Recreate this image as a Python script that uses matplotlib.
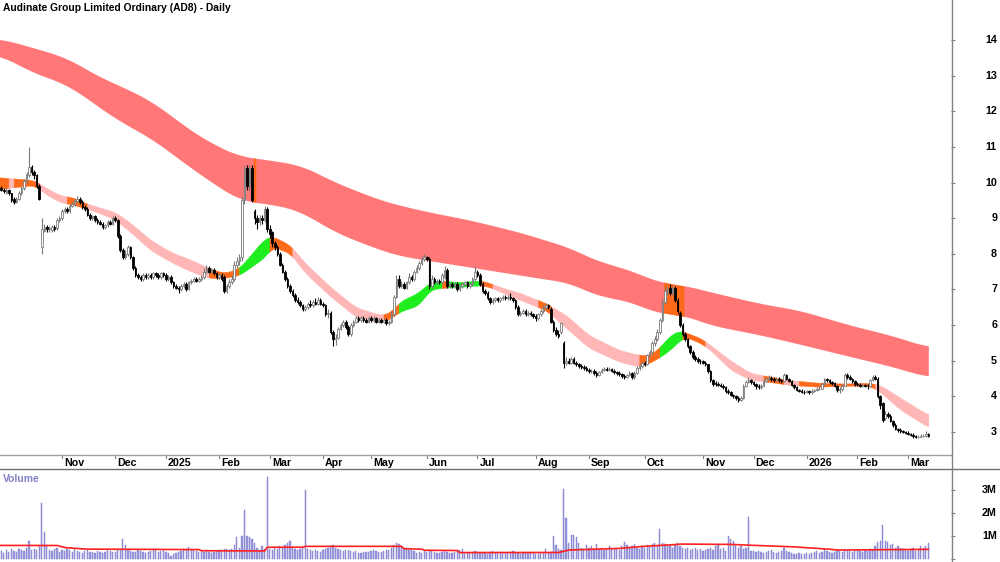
import numpy as np
import pandas as pd
import matplotlib
matplotlib.use('Agg')
import matplotlib.pyplot as plt
from matplotlib.lines import Line2D
from matplotlib.transforms import blended_transform_factory

plt.rcParams['font.family'] = ['Liberation Sans', 'DejaVu Sans']

# ---------------- calendar ----------------
holidays = ['2024-12-25', '2024-12-26', '2025-01-01', '2025-01-27', '2025-04-18',
            '2025-04-21', '2025-04-25', '2025-06-09', '2025-12-25', '2025-12-26',
            '2026-01-01', '2026-01-26']
dates = pd.bdate_range('2024-09-27', '2026-03-12')
dates = dates[~dates.isin(pd.to_datetime(holidays))]

# ---------------- OHLC (A$) ----------------
opens = [
 9.7, 9.85, 9.8, 9.72, 9.8, 9.7, 9.55, 9.45, 9.55, 9.7,
 9.85, 10.05, 10.2, 10.45, 10.3, 10.2, 9.9, 8.2, 8.65, 8.75,
 8.7, 8.68, 8.76, 8.72, 8.95, 9.0, 9.2, 9.26, 9.2, 9.35,
 9.4, 9.48, 9.55, 9.45, 9.32, 9.25, 9.1, 9.0, 9.05, 8.95,
 8.9, 8.85, 8.75, 8.8, 8.9, 8.85, 9.0, 8.95, 8.5, 8.1,
 7.9, 8.0, 8.2, 7.9, 7.6, 7.4, 7.35, 7.3, 7.4, 7.35,
 7.4, 7.35, 7.45, 7.4, 7.35, 7.45, 7.4, 7.3, 7.35, 7.2,
 7.1, 7.05, 7.0, 7.1, 7.15, 7.0, 7.2, 7.25, 7.3, 7.25,
 7.3, 7.35, 7.5, 7.6, 7.5, 7.55, 7.45, 7.35, 7.4, 7.35,
 6.95, 7.1, 7.2, 7.3, 7.7, 7.8, 7.9, 9.5, 10.4, 9.9,
 10.4, 9.2, 9.0, 8.9, 9.0, 8.95, 9.25, 8.7, 8.6, 8.3,
 8.2, 8.0, 7.7, 7.5, 7.3, 7.1, 6.95, 6.85, 6.7, 6.65,
 6.55, 6.45, 6.5, 6.6, 6.55, 6.65, 6.6, 6.7, 6.6, 6.55,
 6.3, 6.35, 5.8, 5.6, 5.65, 5.9, 6.0, 6.1, 5.95, 5.75,
 6.0, 6.1, 6.2, 6.15, 6.2, 6.15, 6.1, 6.2, 6.15, 6.2,
 6.1, 6.15, 6.1, 6.15, 6.05, 6.1, 6.3, 6.8, 7.3, 7.1,
 7.15, 7.05, 7.2, 7.35, 7.3, 7.5, 7.6, 7.75, 7.85, 7.9,
 7.85, 7.1, 7.3, 7.2, 7.25, 7.2, 7.35, 7.55, 7.1, 7.15,
 7.1, 7.15, 7.0, 7.1, 7.15, 7.2, 7.1, 7.15, 7.3, 7.5,
 7.4, 7.15, 6.95, 6.9, 6.75, 6.65, 6.7, 6.75, 6.7, 6.75,
 6.8, 6.75, 6.8, 6.75, 6.7, 6.5, 6.3, 6.35, 6.4, 6.3,
 6.35, 6.3, 6.25, 6.2, 6.3, 6.4, 6.5, 6.55, 6.45, 6.1,
 5.85, 5.75, 5.8, 5.5, 4.95, 5.0, 4.95, 5.05, 4.95, 4.9,
 4.85, 4.82, 4.8, 4.75, 4.7, 4.72, 4.65, 4.6, 4.68, 4.75,
 4.78, 4.75, 4.78, 4.72, 4.68, 4.65, 4.62, 4.58, 4.55, 4.6,
 4.65, 4.55, 4.65, 4.8, 4.85, 4.95, 4.9, 5.15, 5.25, 5.5,
 5.6, 5.8, 6.15, 6.65, 6.95, 7.05, 6.9, 7.05, 6.7, 6.35,
 6.0, 5.75, 5.6, 5.4, 5.25, 5.1, 5.05, 5.0, 4.98, 4.95,
 4.9, 4.7, 4.45, 4.38, 4.35, 4.32, 4.3, 4.25, 4.15, 4.12,
 4.05, 4.0, 3.95, 3.9, 3.95, 4.3, 4.4, 4.45, 4.4, 4.35,
 4.3, 4.25, 4.3, 4.42, 4.5, 4.52, 4.48, 4.45, 4.5, 4.45,
 4.42, 4.6, 4.48, 4.42, 4.32, 4.25, 4.18, 4.15, 4.13, 4.12,
 4.14, 4.12, 4.15, 4.18, 4.2, 4.22, 4.35, 4.48, 4.45, 4.4,
 4.38, 4.3, 4.18, 4.2, 4.3, 4.6, 4.55, 4.5, 4.42, 4.35,
 4.33, 4.3, 4.32, 4.3, 4.28, 4.45, 4.55, 4.5, 4.0, 3.8,
 3.4, 3.5, 3.45, 3.3, 3.2, 3.08, 3.05, 3.02, 3.0, 2.98,
 2.95, 2.92, 2.88, 2.85, 2.87, 2.88, 2.9, 2.95]
highs = [
 9.95, 9.9, 9.85, 9.85, 9.82, 9.72, 9.6, 9.6, 9.75, 9.9,
 10.1, 10.3, 11.0, 10.5, 10.35, 10.25, 9.95, 9.0, 8.85, 8.8,
 8.78, 8.8, 8.8, 9.0, 9.05, 9.25, 9.3, 9.3, 9.4, 9.45,
 9.55, 9.62, 9.6, 9.5, 9.38, 9.3, 9.15, 9.1, 9.08, 9.0,
 8.95, 8.9, 8.85, 8.95, 8.95, 9.05, 9.05, 8.98, 8.55, 8.15,
 8.1, 8.25, 8.22, 7.95, 7.65, 7.45, 7.4, 7.45, 7.45, 7.45,
 7.45, 7.5, 7.5, 7.45, 7.5, 7.5, 7.45, 7.4, 7.4, 7.25,
 7.15, 7.1, 7.15, 7.2, 7.2, 7.25, 7.3, 7.35, 7.35, 7.35,
 7.4, 7.6, 7.7, 7.65, 7.6, 7.6, 7.5, 7.45, 7.45, 7.4,
 7.15, 7.3, 7.4, 7.8, 7.9, 8.0, 9.6, 10.5, 10.5, 10.5,
 10.5, 9.25, 9.1, 9.1, 9.1, 9.35, 9.3, 8.8, 8.65, 8.35,
 8.25, 8.05, 7.75, 7.55, 7.35, 7.15, 7.0, 6.9, 6.8, 6.7,
 6.6, 6.55, 6.65, 6.7, 6.7, 6.75, 6.8, 6.75, 6.65, 6.6,
 6.45, 6.4, 5.85, 5.75, 5.95, 6.05, 6.15, 6.15, 6.0, 6.05,
 6.15, 6.25, 6.25, 6.25, 6.25, 6.2, 6.25, 6.25, 6.25, 6.22,
 6.2, 6.2, 6.2, 6.2, 6.15, 6.4, 6.85, 7.4, 7.4, 7.25,
 7.2, 7.25, 7.45, 7.4, 7.55, 7.7, 7.8, 7.95, 8.0, 7.95,
 7.9, 7.4, 7.35, 7.3, 7.3, 7.45, 7.65, 7.6, 7.2, 7.2,
 7.2, 7.2, 7.15, 7.2, 7.25, 7.25, 7.2, 7.35, 7.65, 7.55,
 7.45, 7.2, 7.0, 6.95, 6.8, 6.75, 6.8, 6.8, 6.8, 6.85,
 6.85, 6.85, 6.9, 6.8, 6.72, 6.55, 6.4, 6.45, 6.45, 6.4,
 6.4, 6.35, 6.3, 6.35, 6.45, 6.55, 6.62, 6.6, 6.5, 6.15,
 5.95, 5.85, 6.1, 5.55, 5.1, 5.08, 5.1, 5.1, 5.0, 4.95,
 4.9, 4.88, 4.85, 4.8, 4.78, 4.76, 4.7, 4.72, 4.8, 4.82,
 4.82, 4.82, 4.8, 4.76, 4.72, 4.7, 4.66, 4.62, 4.64, 4.7,
 4.68, 4.7, 4.85, 4.9, 5.0, 5.0, 5.2, 5.3, 5.55, 5.7,
 5.9, 6.2, 6.75, 7.05, 7.1, 7.15, 7.12, 7.1, 6.75, 6.4,
 6.05, 5.8, 5.65, 5.45, 5.3, 5.15, 5.1, 5.05, 5.02, 5.0,
 4.92, 4.75, 4.5, 4.42, 4.4, 4.38, 4.35, 4.3, 4.2, 4.15,
 4.08, 4.05, 4.0, 4.0, 4.35, 4.45, 4.55, 4.5, 4.42, 4.38,
 4.35, 4.35, 4.45, 4.55, 4.6, 4.58, 4.55, 4.55, 4.55, 4.5,
 4.65, 4.62, 4.52, 4.45, 4.35, 4.28, 4.22, 4.2, 4.18, 4.18,
 4.18, 4.2, 4.22, 4.25, 4.28, 4.4, 4.52, 4.52, 4.48, 4.42,
 4.4, 4.32, 4.25, 4.35, 4.65, 4.65, 4.6, 4.52, 4.45, 4.4,
 4.38, 4.38, 4.36, 4.35, 4.5, 4.6, 4.6, 4.55, 4.05, 3.85,
 3.58, 3.55, 3.5, 3.35, 3.25, 3.12, 3.1, 3.06, 3.04, 3.02,
 2.98, 2.96, 2.92, 2.92, 2.95, 2.95, 3.02, 2.97]
lows = [
 9.65, 9.75, 9.7, 9.68, 9.65, 9.45, 9.4, 9.42, 9.5, 9.65,
 9.8, 10.0, 10.15, 10.2, 10.1, 9.85, 9.5, 8.0, 8.6, 8.6,
 8.6, 8.62, 8.65, 8.68, 8.9, 8.95, 9.15, 9.15, 9.15, 9.3,
 9.35, 9.45, 9.4, 9.25, 9.2, 9.05, 8.95, 8.95, 8.9, 8.85,
 8.8, 8.7, 8.7, 8.75, 8.8, 8.8, 8.9, 8.45, 8.05, 7.85,
 7.85, 7.95, 7.85, 7.55, 7.35, 7.3, 7.25, 7.25, 7.3, 7.3,
 7.3, 7.3, 7.35, 7.3, 7.3, 7.35, 7.25, 7.25, 7.15, 7.05,
 7.0, 6.9, 6.95, 7.05, 6.95, 6.98, 7.15, 7.2, 7.2, 7.2,
 7.25, 7.3, 7.45, 7.45, 7.45, 7.4, 7.3, 7.3, 7.25, 6.9,
 6.9, 7.05, 7.15, 7.25, 7.6, 7.7, 7.8, 9.4, 9.8, 9.8,
 9.45, 8.85, 8.7, 8.8, 8.85, 8.9, 8.6, 8.45, 8.2, 8.1,
 7.95, 7.65, 7.45, 7.25, 7.05, 6.9, 6.8, 6.65, 6.6, 6.5,
 6.4, 6.4, 6.45, 6.5, 6.5, 6.55, 6.55, 6.55, 6.5, 6.25,
 6.2, 5.75, 5.4, 5.45, 5.6, 5.85, 5.95, 5.9, 5.7, 5.7,
 5.95, 6.05, 6.1, 6.1, 6.1, 6.05, 6.05, 6.1, 6.1, 6.05,
 6.05, 6.05, 6.05, 6.0, 6.0, 6.05, 6.25, 6.75, 7.05, 7.05,
 7.0, 7.0, 7.15, 7.25, 7.25, 7.45, 7.55, 7.7, 7.8, 7.8,
 7.0, 7.05, 7.15, 7.15, 7.15, 7.15, 7.3, 7.05, 7.05, 7.05,
 7.05, 6.95, 6.95, 7.05, 7.1, 7.05, 7.05, 7.1, 7.25, 7.35,
 7.1, 6.9, 6.85, 6.7, 6.6, 6.6, 6.65, 6.65, 6.65, 6.7,
 6.7, 6.7, 6.7, 6.65, 6.45, 6.25, 6.25, 6.3, 6.25, 6.25,
 6.25, 6.2, 6.12, 6.15, 6.25, 6.35, 6.45, 6.45, 6.05, 5.8,
 5.7, 5.65, 5.75, 4.8, 4.88, 4.9, 4.9, 4.9, 4.85, 4.8,
 4.78, 4.75, 4.7, 4.65, 4.65, 4.6, 4.55, 4.56, 4.65, 4.72,
 4.7, 4.7, 4.68, 4.64, 4.6, 4.58, 4.52, 4.5, 4.52, 4.56,
 4.5, 4.5, 4.62, 4.75, 4.8, 4.85, 4.88, 5.1, 5.2, 5.4,
 5.55, 5.75, 6.1, 6.6, 6.85, 6.85, 6.85, 6.65, 6.35, 5.95,
 5.7, 5.55, 5.35, 5.2, 5.05, 4.98, 4.95, 4.92, 4.9, 4.85,
 4.65, 4.4, 4.3, 4.3, 4.28, 4.25, 4.2, 4.1, 4.08, 4.0,
 3.95, 3.9, 3.85, 3.88, 3.92, 4.25, 4.38, 4.35, 4.3, 4.22,
 4.2, 4.2, 4.28, 4.4, 4.45, 4.42, 4.4, 4.42, 4.4, 4.38,
 4.4, 4.45, 4.4, 4.3, 4.2, 4.15, 4.12, 4.1, 4.08, 4.1,
 4.08, 4.08, 4.12, 4.15, 4.18, 4.2, 4.32, 4.4, 4.35, 4.32,
 4.25, 4.12, 4.1, 4.15, 4.28, 4.5, 4.45, 4.38, 4.3, 4.28,
 4.25, 4.25, 4.25, 4.22, 4.25, 4.42, 4.45, 3.95, 3.65, 3.28,
 3.35, 3.4, 3.28, 3.15, 3.05, 3.0, 2.98, 2.96, 2.94, 2.92,
 2.88, 2.84, 2.82, 2.83, 2.85, 2.86, 2.87, 2.85]
closes = [
 9.85, 9.8, 9.75, 9.8, 9.7, 9.5, 9.45, 9.55, 9.7, 9.85,
 10.05, 10.25, 10.45, 10.3, 10.2, 9.9, 9.55, 8.7, 8.75, 8.7,
 8.7, 8.75, 8.7, 8.95, 9.0, 9.2, 9.25, 9.2, 9.35, 9.4,
 9.5, 9.55, 9.45, 9.3, 9.25, 9.1, 9.0, 9.05, 8.95, 8.9,
 8.85, 8.75, 8.8, 8.9, 8.85, 9.0, 8.95, 8.5, 8.1, 7.9,
 8.0, 8.2, 7.9, 7.6, 7.4, 7.35, 7.3, 7.4, 7.35, 7.4,
 7.35, 7.45, 7.4, 7.35, 7.45, 7.4, 7.3, 7.35, 7.2, 7.1,
 7.05, 7.0, 7.1, 7.15, 7.0, 7.2, 7.25, 7.3, 7.25, 7.3,
 7.35, 7.5, 7.6, 7.5, 7.55, 7.45, 7.35, 7.4, 7.3, 6.95,
 7.1, 7.2, 7.3, 7.7, 7.8, 7.9, 9.5, 10.4, 9.9, 10.4,
 9.5, 9.0, 8.9, 9.0, 8.95, 9.25, 8.7, 8.55, 8.3, 8.2,
 8.0, 7.7, 7.5, 7.3, 7.1, 6.95, 6.85, 6.7, 6.65, 6.55,
 6.45, 6.5, 6.6, 6.55, 6.65, 6.6, 6.7, 6.6, 6.55, 6.3,
 6.35, 5.8, 5.6, 5.65, 5.9, 6.0, 6.1, 5.95, 5.75, 6.0,
 6.1, 6.2, 6.15, 6.2, 6.15, 6.1, 6.2, 6.15, 6.2, 6.1,
 6.15, 6.1, 6.15, 6.05, 6.1, 6.3, 6.8, 7.3, 7.1, 7.15,
 7.05, 7.2, 7.35, 7.3, 7.5, 7.6, 7.75, 7.85, 7.9, 7.85,
 7.1, 7.3, 7.2, 7.25, 7.2, 7.4, 7.55, 7.1, 7.15, 7.1,
 7.15, 7.0, 7.1, 7.15, 7.2, 7.1, 7.15, 7.3, 7.5, 7.4,
 7.15, 6.95, 6.9, 6.75, 6.65, 6.7, 6.75, 6.7, 6.75, 6.8,
 6.75, 6.8, 6.75, 6.7, 6.5, 6.3, 6.35, 6.4, 6.3, 6.35,
 6.3, 6.25, 6.2, 6.3, 6.4, 6.5, 6.55, 6.5, 6.1, 5.85,
 5.75, 5.7, 6.05, 4.95, 5.0, 4.95, 5.05, 4.95, 4.9, 4.85,
 4.82, 4.8, 4.75, 4.7, 4.72, 4.65, 4.6, 4.68, 4.75, 4.78,
 4.75, 4.78, 4.72, 4.68, 4.65, 4.62, 4.58, 4.55, 4.6, 4.65,
 4.55, 4.65, 4.8, 4.85, 4.95, 4.9, 5.15, 5.25, 5.5, 5.6,
 5.8, 6.15, 6.65, 6.95, 7.0, 6.9, 7.05, 6.7, 6.4, 6.0,
 5.75, 5.6, 5.4, 5.25, 5.1, 5.05, 5.0, 4.98, 4.95, 4.9,
 4.7, 4.45, 4.35, 4.35, 4.32, 4.3, 4.25, 4.15, 4.12, 4.05,
 4.0, 3.95, 3.9, 3.95, 4.3, 4.4, 4.45, 4.4, 4.35, 4.3,
 4.25, 4.3, 4.42, 4.5, 4.52, 4.48, 4.45, 4.5, 4.45, 4.42,
 4.6, 4.48, 4.42, 4.32, 4.25, 4.18, 4.15, 4.13, 4.12, 4.14,
 4.12, 4.15, 4.18, 4.2, 4.22, 4.35, 4.48, 4.45, 4.4, 4.38,
 4.3, 4.18, 4.2, 4.3, 4.6, 4.55, 4.5, 4.42, 4.35, 4.33,
 4.3, 4.32, 4.3, 4.28, 4.45, 4.55, 4.5, 4.0, 3.75, 3.35,
 3.5, 3.45, 3.3, 3.2, 3.08, 3.05, 3.02, 3.0, 2.98, 2.95,
 2.92, 2.88, 2.85, 2.87, 2.9, 2.9, 2.95, 2.88]

# ---------------- volume (millions of shares) ----------------
volume = [
 0.3, 0.35, 0.28, 0.4, 0.3, 0.45, 0.35, 0.3, 0.42, 0.38,
 0.35, 0.5, 0.8, 0.4, 0.45, 0.38, 0.55, 2.43, 1.17, 0.6,
 0.4, 0.35, 0.45, 0.5, 0.3, 0.4, 0.35, 0.45, 0.38, 0.3,
 0.42, 0.35, 0.3, 0.28, 0.35, 0.4, 0.3, 0.32, 0.28, 0.35,
 0.3, 0.25, 0.32, 0.4, 0.35, 0.3, 0.3, 0.38, 0.45, 0.87,
 0.6, 0.45, 0.35, 0.3, 0.32, 0.4, 0.35, 0.3, 0.28, 0.32,
 0.35, 0.45, 0.42, 0.3, 0.35, 0.38, 0.3, 0.25, 0.15, 0.2,
 0.25, 0.3, 0.35, 0.42, 0.38, 0.52, 0.45, 0.4, 0.35, 0.32,
 0.35, 0.3, 0.4, 0.3, 0.28, 0.32, 0.35, 0.4, 0.38, 0.42,
 0.45, 0.4, 0.42, 0.6, 0.95, 0.5, 1.0, 2.13, 1.0, 0.95,
 0.85, 0.7, 0.5, 0.4, 0.55, 0.45, 3.57, 0.45, 0.4, 0.5,
 0.45, 0.55, 0.5, 0.6, 0.7, 0.8, 0.5, 0.45, 0.4, 0.45,
 0.5, 3.0, 0.45, 0.4, 0.35, 0.38, 0.35, 0.3, 0.4, 0.45,
 0.5, 0.55, 0.6, 0.5, 0.45, 0.4, 0.35, 0.38, 0.4, 0.35,
 0.3, 0.35, 0.28, 0.25, 0.3, 0.32, 0.3, 0.35, 0.4, 0.35,
 0.3, 0.32, 0.35, 0.4, 0.38, 0.5, 0.6, 0.7, 0.65, 0.55,
 0.45, 0.5, 0.4, 0.38, 0.35, 0.25, 0.3, 0.28, 0.35, 0.3,
 0.4, 0.35, 0.3, 0.25, 0.28, 0.3, 0.35, 0.3, 0.25, 0.28,
 0.3, 0.35, 0.4, 0.45, 0.3, 0.28, 0.25, 0.3, 0.35, 0.3,
 0.28, 0.3, 0.25, 0.2, 0.3, 0.35, 0.28, 0.3, 0.25, 0.3,
 0.28, 0.25, 0.3, 0.35, 0.3, 0.25, 0.22, 0.28, 0.3, 0.25,
 0.3, 0.25, 0.2, 0.22, 0.3, 0.28, 0.45, 0.25, 0.3, 0.99,
 0.6, 0.45, 0.4, 3.04, 1.78, 0.7, 1.05, 1.05, 0.95, 0.7,
 0.5, 0.45, 0.6, 0.5, 0.55, 0.45, 0.65, 0.45, 0.5, 0.4,
 0.45, 0.55, 0.5, 0.45, 0.5, 0.4, 0.55, 0.72, 0.6, 0.5,
 0.55, 0.65, 0.5, 0.45, 0.55, 0.5, 0.6, 0.55, 0.65, 0.7,
 0.55, 1.3, 0.7, 0.65, 0.6, 0.55, 0.5, 0.6, 0.7, 0.55,
 0.5, 0.45, 0.5, 0.4, 0.45, 0.5, 0.4, 0.45, 0.35, 0.4,
 0.45, 0.5, 0.4, 0.55, 0.6, 0.45, 0.5, 0.35, 1.0, 0.85,
 0.8, 0.6, 0.5, 0.55, 0.45, 0.5, 1.83, 0.35, 0.35, 0.3,
 0.35, 0.3, 0.25, 0.3, 0.35, 0.4, 0.3, 0.28, 0.32, 0.35,
 0.5, 0.35, 0.3, 0.25, 0.22, 0.2, 0.25, 0.22, 0.2, 0.25,
 0.22, 0.25, 0.3, 0.35, 0.28, 0.3, 0.45, 0.35, 0.3, 0.28,
 0.3, 0.4, 0.35, 0.3, 0.45, 0.4, 0.35, 0.3, 0.35, 0.4,
 0.35, 0.3, 0.4, 0.35, 0.45, 0.4, 0.55, 0.75, 0.8, 1.48,
 0.8, 0.75, 0.6, 0.65, 0.5, 0.55, 0.5, 0.45, 0.4, 0.35,
 0.45, 0.5, 0.35, 0.4, 0.55, 0.5, 0.55, 0.7]

# volume moving average (session number, millions)
vma_session = [0, 23, 26, 34, 79, 80, 105, 106, 120, 121, 159, 160, 167, 168, 181, 182,
               221, 225, 237, 245, 253, 265, 269, 288, 296, 312, 328, 331, 367]
vma_value = [0.59, 0.59, 0.5, 0.43, 0.41, 0.36, 0.35, 0.51, 0.51, 0.55, 0.55, 0.45, 0.43,
             0.38, 0.37, 0.28, 0.28, 0.39, 0.43, 0.46, 0.54, 0.61, 0.65, 0.64, 0.6, 0.54,
             0.43, 0.39, 0.42]

# ---------------- long-term MA ribbon (session, top, bottom) ----------------
long_session = [0, 13, 27, 40, 47, 60, 79, 95, 101, 111, 119, 133, 151, 158, 168, 186,
                206, 226, 237, 245, 263, 269, 281, 301, 316, 336, 352, 367]
long_top = [14.05, 13.8, 13.5, 12.95, 12.75, 12.3, 11.3, 10.72, 10.7, 10.58, 10.5, 10.0,
            9.5, 9.37, 9.2, 8.95, 8.6, 8.16, 7.77, 7.65, 7.15, 7.15, 6.93, 6.6, 6.42,
            6.0, 5.72, 5.38]
long_bot = [13.6, 13.1, 12.75, 12.1, 11.75, 11.25, 10.25, 9.5, 9.45, 9.35, 9.2, 8.6, 8.1,
            7.95, 7.83, 7.63, 7.4, 7.18, 6.79, 6.75, 6.28, 6.32, 6.0, 5.72, 5.47, 5.12,
            4.85, 4.54]
long_alert_start = [100.5, 262.5]
long_alert_end = [101.5, 270.5]

# ---------------- short-term MA ribbon ----------------
short_session = [0, 14, 18, 24, 30, 34, 40, 46, 52, 60, 68, 76, 83, 89, 95, 101, 105, 108,
                 115, 121, 131, 141, 151, 155, 158, 166, 170, 174, 182, 190, 194, 198, 206,
                 216, 224, 233, 245, 253, 257, 261, 265, 269, 271, 277, 281, 289, 297, 305,
                 312, 324, 334, 344, 348, 356, 367]
short_top = [10.15, 10.07, 9.88, 9.65, 9.57, 9.43, 9.3, 9.17, 8.87, 8.39, 8.05, 7.83, 7.6,
             7.46, 7.6, 8.1, 8.44, 8.5, 8.25, 7.74, 7.07, 6.5, 6.28, 6.37, 6.65, 6.93,
             7.2, 7.26, 7.2, 7.26, 7.18, 7.07, 6.9, 6.62, 6.28, 5.72, 5.3, 5.16, 5.16,
             5.38, 5.72, 5.86, 5.8, 5.64, 5.44, 5.0, 4.65, 4.55, 4.46, 4.38, 4.36, 4.38,
             4.32, 3.96, 3.48]
short_bot = [9.82, 9.93, 9.7, 9.45, 9.37, 9.28, 9.14, 8.95, 8.61, 8.1, 7.77, 7.5, 7.32,
             7.32, 7.4, 7.7, 7.9, 8.2, 8.02, 7.46, 6.8, 6.23, 6.06, 6.2, 6.37, 6.56, 6.98,
             7.04, 7.07, 7.12, 7.07, 6.93, 6.7, 6.42, 5.92, 5.36, 4.97, 4.83, 4.94, 5.1,
             5.3, 5.58, 5.67, 5.5, 5.3, 4.74, 4.46, 4.4, 4.32, 4.27, 4.3, 4.3, 4.12,
             3.62, 3.14]
seg_start = [0, 4, 6, 16, 27, 35, 83, 95, 107, 116, 152, 158, 175, 177, 190, 195, 213,
             218, 253, 261, 270, 279, 302, 310, 316, 346]
seg_end = [4, 6, 16, 27, 35, 83, 95, 107, 116, 152, 158, 175, 177, 190, 195, 213, 218,
           253, 261, 270, 279, 302, 310, 316, 346, 367]
seg_state = ['neutral', 'bear', 'neutral', 'bear', 'neutral', 'bear', 'neutral', 'bull',
             'neutral', 'bear', 'neutral', 'bull', 'neutral', 'bull', 'neutral', 'bear',
             'neutral', 'bear', 'neutral', 'bull', 'neutral', 'bear', 'neutral', 'bear',
             'neutral', 'bear']

title = 'Audinate Group Limited Ordinary (AD8) - Daily'
price_ticks = [3, 4, 5, 6, 7, 8, 9, 10, 11, 12, 13, 14]
vol_ticks = [1, 2, 3]

# ---------------- styling ----------------
W, H = 1000, 562
C_LONG = '#FF7777'
C_ALERT = '#FF6A1A'
STATE_COL = {'bull': '#1EEE1E', 'bear': '#FFB6B6', 'neutral': '#FF6A1A'}
GRID = '#808080'
FS = 7.4

fig = plt.figure(figsize=(10, 5.62), dpi=100)
ax = fig.add_axes([0, 1 - 455 / H, 951 / W, 455 / H])
axv = fig.add_axes([0, 0, 951 / W, 93 / H])

idx = np.arange(len(closes))
x_left = 1.3 / 2.533
x_right = 952.3 / 2.533
for a in (ax, axv):
    a.set_xlim(x_left, x_right)
    for s in a.spines.values():
        s.set_visible(False)
    a.tick_params(axis='x', bottom=False, labelbottom=False)
    a.patch.set_alpha(0)

ax.set_ylim(3 - 23 / 35.64, 14 + 40 / 35.64)
axv.set_ylim(-3 / 23, 90 / 23)

# fine grid for drawing the ribbons through the read-off points (smoothed line drawing)
g = np.linspace(0, len(closes) - 1, 3671)
step = g[1] - g[0]


def smooth_line(xs, ys, win_bars):
    yy = np.interp(g, xs, ys)
    k = max(int(win_bars / step) | 1, 1)
    pad = k // 2
    yp = np.pad(yy, pad, mode='edge')
    return np.convolve(yp, np.ones(k) / k, mode='valid')


lt = smooth_line(long_session, long_top, 14)
lb = smooth_line(long_session, long_bot, 14)
st_ = smooth_line(short_session, short_top, 5)
sb_ = smooth_line(short_session, short_bot, 5)

# long ribbon
ax.fill_between(g, lb, lt, color=C_LONG, lw=0, zorder=1)
for s, e in zip(long_alert_start, long_alert_end):
    m = (g >= s) & (g <= e)
    ax.fill_between(g[m], lb[m], lt[m], color=C_ALERT, lw=0, zorder=1.5)

# short ribbon
for s, e, st in zip(seg_start, seg_end, seg_state):
    m = (g >= s - step) & (g <= e + step)
    ax.fill_between(g[m], sb_[m], st_[m], color=STATE_COL[st], edgecolor=STATE_COL[st],
                    lw=0.3, zorder=2)

# candles
o = np.array(opens); h = np.array(highs); l = np.array(lows); c = np.array(closes)
up = c >= o
ax.vlines(idx[up], l[up], h[up], colors='#7A7A7A', lw=0.8, zorder=3)
ax.vlines(idx[~up], l[~up], h[~up], colors='black', lw=0.8, zorder=3)
body_b = np.minimum(o, c)
body_h = np.maximum(np.abs(c - o), 0.012)
ax.bar(idx[up], body_h[up], bottom=body_b[up], width=0.62, color='white',
       edgecolor='#7A7A7A', linewidth=0.6, zorder=4)
ax.bar(idx[~up], body_h[~up], bottom=body_b[~up], width=0.62, color='black',
       edgecolor='black', linewidth=0.6, zorder=4)

# volume
axv.bar(idx, volume, width=0.5, color='#9A9ADE', edgecolor='#7A7ACB', linewidth=0.3, zorder=2)
axv.plot(g, np.interp(g, vma_session, vma_value), color='#FF2020', lw=1.2, zorder=3)

# right axis ticks
ax.set_yticks(price_ticks)
ax.tick_params(axis='y', left=False, right=True, labelleft=False, labelright=False,
               length=3, width=0.8, color=GRID, direction='out')
axv.set_yticks([0] + vol_ticks)
axv.tick_params(axis='y', left=False, right=True, labelleft=False, labelright=False,
                length=3, width=0.8, color=GRID, direction='out')
tr_p = blended_transform_factory(fig.transFigure, ax.transData)
for t in price_ticks:
    fig.text(997 / W, t, str(t), transform=tr_p, ha='right', va='center',
             fontsize=FS + 0.3, fontweight='bold')
tr_v = blended_transform_factory(fig.transFigure, axv.transData)
for t in vol_ticks:
    fig.text(997 / W, t, f'{t}M', transform=tr_v, ha='right', va='center',
             fontsize=FS + 0.3, fontweight='bold')

# month labels
tr_m = blended_transform_factory(ax.transData, fig.transFigure)
ser = pd.Series(np.arange(len(dates)), index=dates)
firsts = ser.groupby([dates.year, dates.month]).min()
for (yy, mm), i in firsts.items():
    if i < 10:
        continue
    lab = str(yy) if mm == 1 else pd.Timestamp(yy, mm, 1).strftime('%b')
    fig.add_artist(Line2D([i, i], [1 - 455 / H, 1 - 458 / H], transform=tr_m,
                          color=GRID, lw=0.8))
    fig.text(i + 0.8, 1 - 462.5 / H, lab, transform=tr_m, ha='left', va='center',
             fontsize=FS + 0.3, fontweight='bold')

# frame lines
fig.add_artist(Line2D([0, 952 / W], [1 - 455 / H] * 2, color='#A0A0A0', lw=1))
fig.add_artist(Line2D([0, 1], [1 - 469 / H] * 2, color='#707070', lw=1))
fig.add_artist(Line2D([952 / W] * 2, [0, 1], color=GRID, lw=1))

fig.text(3 / W, 1 - 8 / H, title, ha='left', va='center', fontsize=FS, fontweight='bold')
fig.text(3 / W, 1 - 478.5 / H, 'Volume', ha='left', va='center', fontsize=FS,
         fontweight='bold', color='#8282C8')

fig.savefig('out.png', dpi=100)
